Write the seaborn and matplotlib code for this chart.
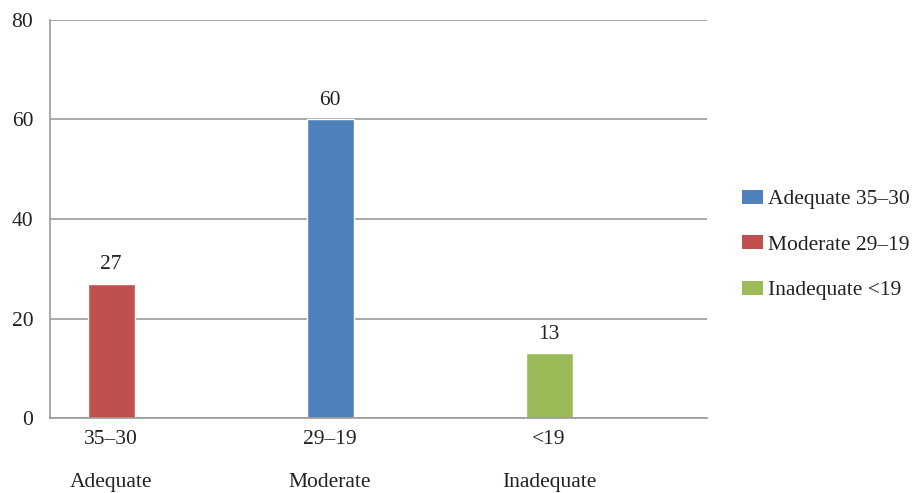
import matplotlib
matplotlib.use("Agg")
import matplotlib.pyplot as plt
import seaborn as sns
import pandas as pd
from matplotlib.patches import Patch

ranges = ["35–30", "29–19", "<19"]
groups = ["Adequate", "Moderate", "Inadequate"]
series = ["Moderate 29–19", "Adequate 35–30", "Inadequate <19"]
values = [27, 60, 13]
legend_order = ["Adequate 35–30", "Moderate 29–19", "Inadequate <19"]
colors = {"Adequate 35–30": "#4F81BD", "Moderate 29–19": "#C0504D", "Inadequate <19": "#9BBB59"}

df = pd.DataFrame({"range": ranges, "series": series, "value": values})

sns.set_style("white")
plt.rcParams["font.family"] = ["Liberation Serif", "DejaVu Serif"]
FS = 15.5

fig = plt.figure(figsize=(9.22, 4.93), dpi=100)
ax = fig.add_axes([50/922, 1-418/493, (707-50)/922, (418-20)/493])

sns.barplot(data=df, x="range", y="value", hue="series", order=ranges,
            hue_order=legend_order, palette=colors, dodge=False, width=0.215,
            ax=ax, legend=False, saturation=1)

for c in ax.containers:
    labs = [f"{v:.0f}" if v == v and v > 0 else "" for v in c.datavalues]
    ax.bar_label(c, labels=labs, padding=7, fontsize=FS, color="#222222")

ax.set_ylim(0, 80)
ax.set_xlim(-0.279, 2.721)
ax.set_yticks([0, 20, 40, 60, 80])
ax.yaxis.grid(True, color="#9a9a9a", linewidth=1.2)
ax.set_axisbelow(True)
ax.set_xticks(range(3))
ax.set_xticklabels([f"{r}\n\n{g}" for r, g in zip(ranges, groups)], linespacing=1.15)
ax.set_xticks([-0.279, 0.721, 1.721, 2.721], minor=True)
ax.tick_params(axis="x", which="major", length=0, pad=9, labelsize=FS, labelcolor="#222222")
ax.tick_params(axis="x", which="minor", length=7, width=1.2, color="#9a9a9a", direction="out")
ax.tick_params(axis="y", length=10, width=1.2, color="#9a9a9a", direction="out", pad=2,
               labelsize=FS, labelcolor="#222222")
ax.set_xlabel("")
ax.set_ylabel("")
for s in ["top", "right"]:
    ax.spines[s].set_visible(False)
for s in ["left", "bottom"]:
    ax.spines[s].set_color("#9a9a9a")
    ax.spines[s].set_linewidth(1.2)

handles = [Patch(facecolor=colors[s], edgecolor="none") for s in legend_order]
fig.legend(handles, legend_order, loc="center left", bbox_to_anchor=(742/922, 1-245/493),
           frameon=False, fontsize=FS, handlelength=0.98, handleheight=0.65,
           handletextpad=0.25, labelspacing=1.2, borderpad=0, borderaxespad=0,
           labelcolor="#222222")

fig.savefig("out.png", dpi=100)
